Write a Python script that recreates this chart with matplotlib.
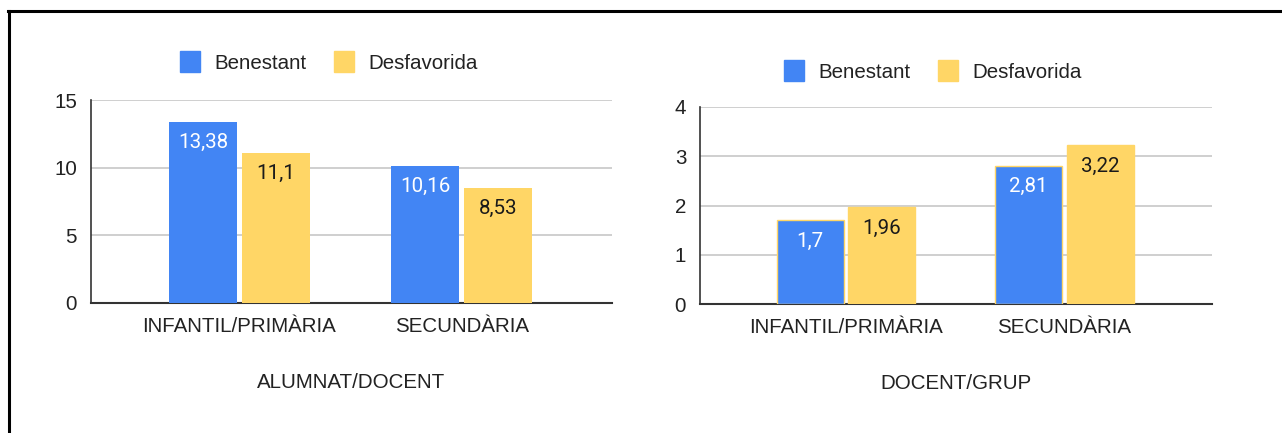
import matplotlib
matplotlib.use("Agg")
import matplotlib.pyplot as plt
from matplotlib.lines import Line2D
from matplotlib.patches import Patch
import numpy as np

categories = ["INFANTIL/PRIMÀRIA", "SECUNDÀRIA"]
series_names = ["Benestant", "Desfavorida"]
alumnat_benestant = [13.38, 10.16]
alumnat_desfavorida = [11.1, 8.53]
docent_benestant = [1.7, 2.81]
docent_desfavorida = [1.96, 3.22]
left_title = "ALUMNAT/DOCENT"
right_title = "DOCENT/GRUP"
left_yticks = [0, 5, 10, 15]
right_yticks = [0, 1, 2, 3, 4]

BLUE = "#4285F4"
YELLOW = "#FFD666"
GRID = "#CCCCCC"
FONT = "Liberation Sans"
LABEL_FONT = "Roboto"
FS = 14.8

fig = plt.figure(figsize=(12.82, 4.33), dpi=100)

def fmt(v):
    s = f"{v:.2f}".rstrip("0").rstrip(".")
    return s.replace(".", ",")

def draw(ax, b, d, yticks, title, edge):
    x = np.arange(len(categories))
    w = 0.306
    gap = 0.011
    bb = ax.bar(x - w / 2 - gap, b, w, color=BLUE, zorder=3,
                edgecolor=edge if edge else BLUE, linewidth=1 if edge else 0)
    bd = ax.bar(x + w / 2 + gap, d, w, color=YELLOW, zorder=3,
                edgecolor=edge if edge else YELLOW, linewidth=1 if edge else 0)
    for bars, col in ((bb, "white"), (bd, "#1a1a1a")):
        for rect in bars:
            h = rect.get_height()
            ax.annotate(fmt(h), (rect.get_x() + rect.get_width() / 2, h),
                        xytext=(0, -15), textcoords="offset points",
                        ha="center", va="center", fontsize=FS,
                        family=LABEL_FONT, color=col, zorder=4)
    ax.set_xlim(-0.668, 1.676)
    ax.set_ylim(yticks[0], yticks[-1])
    ax.set_yticks(yticks)
    ax.set_yticklabels([str(t) for t in yticks], family=FONT, fontsize=FS, color="#222222")
    ax.set_xticks(x)
    ax.set_xticklabels(categories, family=FONT, fontsize=FS, color="#222222")
    ax.tick_params(axis="y", length=0, pad=10)
    ax.tick_params(axis="x", length=0, pad=10)
    ax.grid(axis="y", color=GRID, linewidth=1.3, zorder=0)
    for s in ("top", "right"):
        ax.spines[s].set_visible(False)
    ax.spines["left"].set_color("#333333")
    ax.spines["bottom"].set_color("#333333")
    ax.spines["left"].set_linewidth(1.2)
    ax.spines["bottom"].set_linewidth(1.5)
    ax.set_xlabel(title, family=FONT, fontsize=FS, color="#222222", labelpad=27)

ax1 = fig.add_axes([91 / 1282, 1 - 303 / 433, 521 / 1282, 203 / 433])
draw(ax1, alumnat_benestant, alumnat_desfavorida, left_yticks, left_title, None)
ax2 = fig.add_axes([700 / 1282, 1 - 304 / 433, 512 / 1282, 197 / 433])
draw(ax2, docent_benestant, docent_desfavorida, right_yticks, right_title, YELLOW)

handles = [Patch(facecolor=BLUE, edgecolor=BLUE), Patch(facecolor=YELLOW, edgecolor=YELLOW)]
for cx, cy in ((329 / 1282, 1 - 62 / 433), (933 / 1282, 1 - 71 / 433)):
    fig.legend(handles, series_names, loc="center", bbox_to_anchor=(cx, cy),
               ncol=2, frameon=False, prop={"family": FONT, "size": FS},
               handlelength=0.95, handleheight=1.2, handletextpad=0.7,
               columnspacing=1.35, labelcolor="#222222")

fig.add_artist(Line2D([8 / 1282, 1], [1 - 11 / 433, 1 - 11 / 433], color="black",
                      linewidth=2.2, transform=fig.transFigure))
fig.add_artist(Line2D([9 / 1282, 9 / 1282], [0, 1 - 11 / 433], color="black",
                      linewidth=2.2, transform=fig.transFigure))

fig.savefig("out.png", dpi=100)
